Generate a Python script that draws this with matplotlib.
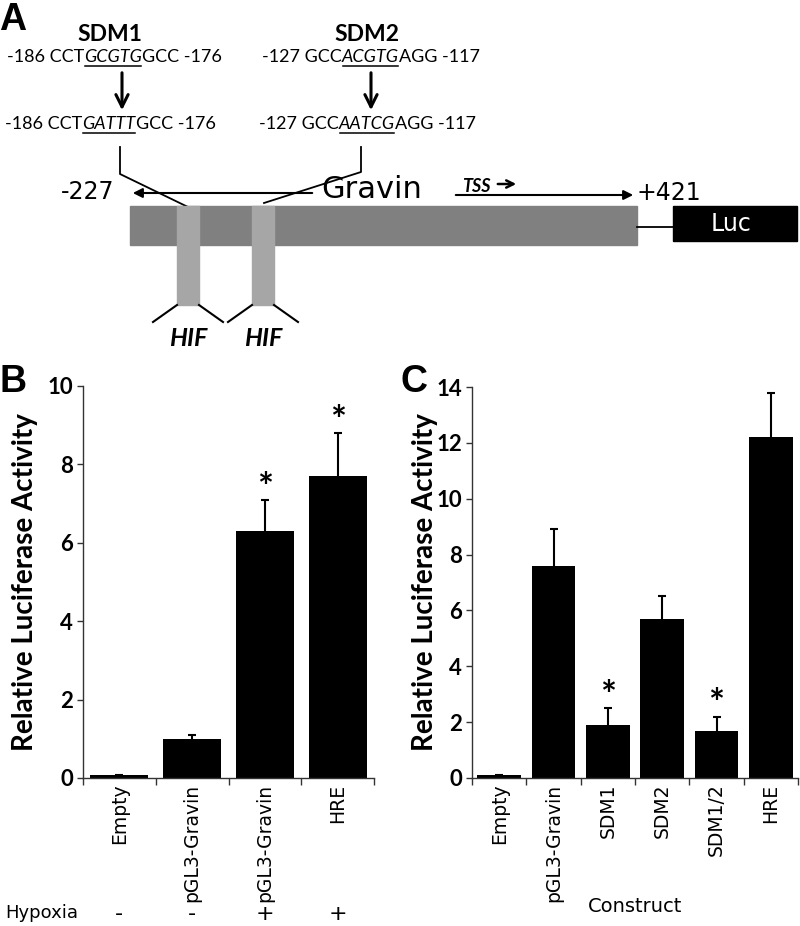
import numpy as np
import matplotlib
matplotlib.use("Agg")
import matplotlib.pyplot as plt
import matplotlib.transforms as mtransforms
from matplotlib.patches import Rectangle

# panel B data
b_labels = ["Empty", "pGL3-Gravin", "pGL3-Gravin", "HRE"]
b_hypoxia = ["-", "-", "+", "+"]
b_means = [0.07, 1.0, 6.3, 7.7]
b_errs = [0.0, 0.1, 0.8, 1.1]
b_star = [False, False, True, True]

# panel C data
c_labels = ["Empty", "pGL3-Gravin", "SDM1", "SDM2", "SDM1/2", "HRE"]
c_means = [0.12, 7.6, 1.9, 5.7, 1.7, 12.2]
c_errs = [0.0, 1.3, 0.6, 0.8, 0.5, 1.6]
c_star = [False, False, True, False, True, False]

W, H = 800, 926
fig = plt.figure(figsize=(W / 100, H / 100), dpi=100)

# diagram layer in pixel coords
ax0 = fig.add_axes([0, 0, 1, 1])
ax0.set_xlim(0, W)
ax0.set_ylim(H, 0)
ax0.axis("off")
ax0.set_zorder(0)

renderer = fig.canvas.get_renderer()
SEQF = "Lato"


def seq_text(x, y, pieces, size=13):
    # pieces: list of (text, italic_underlined)
    for s, special in pieces:
        t = ax0.text(x, y, s, fontsize=size, family=SEQF, va="baseline", ha="left",
                     style="italic" if special else "normal")
        w = t.get_window_extent(renderer).width
        if special:
            ax0.plot([x + 1, x + w - 1], [y + 3.5, y + 3.5], color="black", lw=1.1)
        x += w
    return x


ax0.text(-1, 30, "A", fontsize=27, fontweight="bold", family="Liberation Sans", va="baseline", ha="left")
ax0.text(-1, 392, "B", fontsize=27, fontweight="bold", family="Liberation Sans", va="baseline", ha="left")
ax0.text(400, 392, "C", fontsize=27, fontweight="bold", family="Liberation Sans", va="baseline", ha="left")

ax0.text(110, 41, "SDM1", fontsize=16.5, fontweight="bold", family=SEQF, ha="center", va="baseline")
ax0.text(367, 41, "SDM2", fontsize=16.5, fontweight="bold", family=SEQF, ha="center", va="baseline")

seq_text(7, 62, [("-186 CCT", False), ("GCGTG", True), ("GCC -176", False)])
seq_text(5, 129, [("-186 CCT", False), ("GATTT", True), ("GCC -176", False)])
seq_text(262, 62, [("-127 GCC", False), ("ACGTG", True), ("AGG -117", False)])
seq_text(259, 129, [("-127 GCC", False), ("AATCG", True), ("AGG -117", False)])

for xa in [122, 371]:
    ax0.annotate("", xy=(xa, 113), xytext=(xa, 70),
                 arrowprops=dict(arrowstyle="->", lw=2.2, color="black", mutation_scale=22))

# connector lines
ax0.plot([120, 120, 188], [147, 174, 207], color="black", lw=1.3)
ax0.plot([361, 361, 264], [147, 172, 203], color="black", lw=1.3)

# gene bar
ax0.add_patch(Rectangle((130, 206), 507, 39, color="#808080", zorder=1))
for xr in [177, 252]:
    ax0.add_patch(Rectangle((xr, 206), 22, 99, color="#a6a6a6", zorder=2))
    ax0.plot([xr, xr - 24], [305, 322], color="black", lw=1.5)
    ax0.plot([xr + 22, xr + 46], [305, 322], color="black", lw=1.5)
    ax0.text(xr + 11, 338, "HIF", fontsize=18, fontweight="bold", style="italic",
             family=SEQF, ha="center", va="center")

ax0.plot([637, 673], [227, 227], color="black", lw=1.3)
ax0.add_patch(Rectangle((673, 206), 124, 35, color="black", zorder=1))
ax0.text(731, 224, "Luc", color="white", fontsize=17, ha="center", va="center")

ax0.annotate("", xy=(130, 193), xytext=(315, 193),
             arrowprops=dict(arrowstyle="-|>", lw=1.5, color="black", mutation_scale=14))
ax0.annotate("", xy=(636, 195), xytext=(453, 195),
             arrowprops=dict(arrowstyle="-|>", lw=1.5, color="black", mutation_scale=14))
ax0.text(88, 192, "-227", fontsize=17, ha="center", va="center")
ax0.text(372, 189, "Gravin", fontsize=22, ha="center", va="center")
ax0.text(669, 193, "+421", fontsize=17, ha="center", va="center")
ax0.text(462, 186, "TSS", fontsize=13, fontweight="bold", style="italic", family=SEQF,
         ha="left", va="center")
ax0.annotate("", xy=(519, 184), xytext=(495, 184),
             arrowprops=dict(arrowstyle="->", lw=1.8, color="black", mutation_scale=13))

ax0.text(5, 913, "Hypoxia", fontsize=13, ha="left", va="center")


def bar_panel(rect, labels, means, errs, stars, ymax, ystep, star_off):
    ax = fig.add_axes(rect)
    ax.set_facecolor("none")
    n = len(means)
    x = np.arange(n)
    tops = np.array(means) + np.array(errs)
    ax.bar(x, means, width=0.8, color="black", zorder=2)
    ax.vlines(x, means, tops, color="black", lw=1.5, zorder=1)
    ax.plot(x, tops, ls="none", marker="_", ms=6, mew=1.5, color="black", zorder=1)
    for i in range(n):
        if stars[i]:
            ax.annotate("*", xy=(x[i], tops[i]), xytext=(0, star_off),
                        textcoords="offset points", ha="center", va="center",
                        fontsize=27, fontweight="bold", family=SEQF)
    ax.set_xlim(-0.5, n - 0.5)
    ax.set_ylim(0, ymax)
    ax.set_yticks(np.arange(0, ymax + 0.1, ystep))
    ax.set_xticks(x)
    ax.set_xticklabels(labels, rotation=90, fontsize=13.5)
    ax.set_xticks(np.arange(n + 1) - 0.5, minor=True)
    ax.tick_params(axis="x", which="major", length=0, pad=4)
    ax.tick_params(axis="x", which="minor", length=5, direction="out", width=1, color="#333333")
    ax.tick_params(axis="y", length=4, width=1, color="#333333", pad=3)
    for lab in ax.get_yticklabels():
        lab.set_fontweight("bold")
        lab.set_family(SEQF)
        lab.set_fontsize(16)
    for sp in ["top", "right"]:
        ax.spines[sp].set_visible(False)
    for sp in ["left", "bottom"]:
        ax.spines[sp].set_color("#333333")
        ax.spines[sp].set_linewidth(1)
    ax.set_ylabel("Relative Luciferase Activity", fontsize=20, fontweight="bold", family=SEQF)
    return ax


axb = bar_panel([83 / W, 1 - 778 / H, (374 - 83) / W, (778 - 386) / H],
                b_labels, b_means, b_errs, b_star, 10, 2, 8)
axb.yaxis.set_label_coords(-0.155, 0.5)
axc = bar_panel([472 / W, 1 - 778 / H, (798 - 472) / W, (778 - 387) / H],
                c_labels, c_means, c_errs, c_star, 14, 2, 8)
axc.yaxis.set_label_coords(-0.104, 0.5)
axc.set_xlabel("Construct", fontsize=14)
axc.xaxis.set_label_coords(0.5, -0.305)

# hypoxia row under panel B
trans = mtransforms.blended_transform_factory(axb.transData, ax0.transData)
for i, s in enumerate(b_hypoxia):
    axb.text(i, 914, s, transform=trans, fontsize=16, ha="center", va="center")

fig.savefig("out.png", dpi=100)
